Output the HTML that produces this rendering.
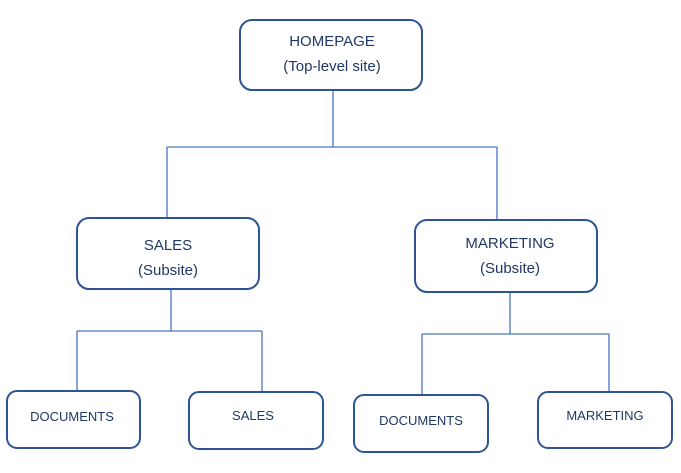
<!DOCTYPE html>
<html><head><meta charset="utf-8"><style>
body{margin:0;background:#fff;width:681px;height:473px;overflow:hidden}
svg{display:block}
text{font-family:"Liberation Sans",sans-serif;fill:#1f3864}
</style></head><body>
<svg width="681" height="473" viewBox="0 0 681 473">
<g stroke="#4a74c4" stroke-width="1.3" fill="none">
<path d="M333 90V147M167 147H497M167 147V218M497 147V220"/>
<path d="M171 289V331M77 331H262M77 331V391M262 331V391"/>
<path d="M510 292V334M422 334H609M422 334V395M609 334V392"/>
</g>
<g stroke="#2f5496" stroke-width="2" fill="#fff">
<rect x="240" y="20" width="182" height="70" rx="12"/>
<rect x="77" y="218" width="182" height="71" rx="12"/>
<rect x="415" y="220" width="182" height="72" rx="12"/>
<rect x="7" y="391" width="133" height="57" rx="10"/>
<rect x="189" y="392" width="134" height="57" rx="10"/>
<rect x="354" y="395" width="134" height="57" rx="10"/>
<rect x="538" y="392" width="134" height="56" rx="10"/>
</g>
<g text-anchor="middle" font-size="15">
<text x="332" y="46">HOMEPAGE</text>
<text x="332" y="71">(Top-level site)</text>
<text x="168" y="250">SALES</text>
<text x="168" y="275">(Subsite)</text>
<text x="510" y="248">MARKETING</text>
<text x="510" y="273">(Subsite)</text>
</g>
<g text-anchor="middle" font-size="13">
<text x="72" y="421">DOCUMENTS</text>
<text x="253" y="420">SALES</text>
<text x="421" y="425">DOCUMENTS</text>
<text x="605" y="420">MARKETING</text>
</g>
</svg>
</body></html>
